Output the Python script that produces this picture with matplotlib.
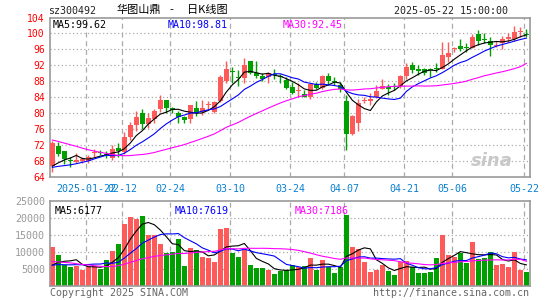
import matplotlib.pyplot as plt
import numpy as np
import pandas as pd

plt.rcParams['font.family'] = ['DejaVu Sans Mono']

# daily candles, 2025-01-17 .. 2025-05-22
opens = [66.8, 71.9, 70.5, 68.2, 67.9, 68.1, 68.1, 70.0, 70.3, 69.9,
         68.9, 71.3, 70.3, 74.2, 77.1, 80.1, 77.3, 78.6, 81.0, 83.3,
         81.3, 80.0, 79.1, 78.5, 81.3, 80.4, 82.0, 80.4, 83.1, 88.1,
         90.5, 89.1, 88.75, 93.1, 90.2, 89.3, 89.2, 89.7, 89.3, 88.3,
         86.7, 85.6, 84.8, 84.2, 87.3, 86.3, 89.4, 88.0, 87.2, 83.2,
         74.8, 77.7, 83.0, 83.1, 84.0, 86.2, 86.7, 86.6, 86.9, 89.4,
         92.2, 91.2, 91.0, 91.1, 91.3, 91.2, 94.2, 96.0, 96.8, 96.5,
         96.4, 99.8, 98.7, 98.1, 96.8, 97.5, 98.5, 98.6, 100.3, 99.8]
highs = [73.0, 72.8, 70.7, 69.0, 70.1, 69.2, 69.7, 71.2, 70.8, 70.5,
         72.1, 72.5, 75.3, 77.9, 80.7, 81.2, 80.0, 81.1, 84.6, 83.3,
         81.7, 80.6, 79.3, 82.0, 83.1, 83.3, 83.1, 83.1, 89.6, 93.1,
         91.5, 90.8, 93.9, 93.1, 93.1, 90.0, 90.4, 91.2, 89.9, 89.2,
         87.9, 87.5, 85.8, 87.6, 87.9, 89.6, 90.0, 89.2, 87.9, 84.6,
         79.6, 83.7, 84.0, 85.0, 87.0, 88.5, 87.3, 87.5, 89.7, 92.6,
         92.9, 92.2, 91.4, 91.4, 92.5, 97.9, 97.9, 96.7, 98.7, 97.5,
         99.8, 100.8, 100.2, 99.2, 98.1, 99.3, 100.2, 101.9, 101.7, 101.1]
lows = [65.4, 69.3, 67.3, 66.7, 67.5, 67.6, 67.6, 69.1, 69.6, 68.8,
        68.4, 69.0, 69.8, 73.4, 75.6, 76.0, 76.4, 77.5, 80.4, 80.2,
        80.2, 77.7, 77.7, 77.7, 79.3, 79.6, 80.8, 80.2, 82.9, 87.7,
        87.7, 86.8, 87.7, 89.8, 88.9, 88.2, 87.7, 88.5, 87.5, 86.0,
        84.8, 84.2, 84.0, 83.5, 86.0, 86.1, 87.2, 87.0, 85.4, 70.8,
        74.6, 75.5, 82.5, 82.1, 83.8, 86.0, 84.6, 85.8, 86.4, 88.7,
        90.2, 89.6, 89.6, 89.2, 90.4, 91.2, 92.9, 95.4, 95.6, 95.4,
        96.4, 97.2, 97.7, 94.4, 96.7, 96.0, 97.9, 98.1, 99.2, 99.2]
closes = [72.6, 69.9, 68.6, 68.0, 68.3, 68.7, 69.2, 70.2, 70.1, 69.7,
          71.2, 70.6, 74.2, 77.2, 79.0, 77.3, 78.9, 80.6, 83.3, 81.4,
          80.8, 79.0, 78.3, 82.0, 80.0, 81.3, 82.2, 82.9, 89.2, 91.1,
          90.3, 88.9, 92.1, 90.2, 89.4, 88.5, 90.0, 89.5, 89.1, 86.3,
          85.2, 85.8, 84.2, 87.3, 86.4, 89.4, 88.2, 87.9, 86.1, 74.9,
          79.3, 82.5, 83.2, 83.7, 85.6, 86.8, 86.2, 86.5, 89.4, 91.7,
          90.8, 90.6, 90.2, 90.9, 91.1, 94.6, 95.2, 96.1, 96.2, 96.3,
          99.2, 98.1, 98.3, 97.2, 97.2, 98.7, 99.2, 100.4, 100.4, 99.6]
volumes = [11500, 9100, 6000, 5600, 5900, 4700, 5600, 5800, 5000, 7600,
           10300, 12400, 18100, 20200, 19600, 20500, 14800, 14800, 12400, 9700,
           10000, 13700, 5800, 11000, 10600, 8500, 8000, 7100, 16600, 16900,
           9700, 8500, 10500, 6100, 5300, 5300, 4700, 3500, 4200, 4700,
           6000, 5500, 5800, 8200, 4600, 7500, 5500, 3700, 5500, 20800,
           11500, 10900, 7000, 4000, 4700, 6100, 4300, 3100, 7000, 7300,
           5500, 3700, 3700, 4000, 8200, 14800, 9100, 8500, 9500, 6700,
           13000, 7900, 8200, 10000, 6100, 6400, 5500, 10000, 4600, 4000]

# days before the window (only feed the moving averages), estimated
pre_close = [80.5, 81.2, 79.8, 80.6, 82.0, 81.5, 80.3, 79.0, 78.2, 79.1,
             77.6, 76.8, 75.9, 74.5, 73.8, 72.6, 71.9, 70.8, 69.9, 68.8,
             67.5, 66.8, 66.0, 65.5, 65.2, 65.8, 65.0, 65.6, 65.0]
pre_volume = [12500, 10800, 9600, 13200, 11500, 10200, 12000, 10500, 9800, 10500,
              4800, 4200, 4500, 3900, 4100, 4600, 4000, 4300, 3800, 4200,
              7200, 6500, 5800, 5500, 5000, 4800, 4500, 4900, 4300]

date_idx = [6, 12, 20, 30, 40, 49, 59, 67, 79]
date_labels = ['2025-01-22', '02-12', '02-24', '03-10', '03-24',
               '04-07', '04-21', '05-06', '05-22']
price_ticks = [64, 68, 72, 76, 80, 84, 88, 92, 96, 100, 104]
vol_ticks = [5000, 10000, 15000, 20000, 25000]

RED = '#ff5a5a'
GREEN = '#00a000'
n = len(closes)
x = np.arange(n)

cs = pd.Series(pre_close + closes)
vs = pd.Series(pre_volume + volumes)
ma = {k: cs.rolling(k).mean().values[-n:] for k in (5, 10, 30)}
vma = {k: vs.rolling(k).mean().values[-n:] for k in (5, 10, 30)}
ma_colors = {5: 'black', 10: '#0000ff', 30: '#ff00ff'}

W, H = 545, 300
fig = plt.figure(figsize=(W / 100, H / 100), dpi=100)
ax = fig.add_axes([49.7 / W, 1 - 177.3 / H, 480.3 / W, 159.8 / H])
axv = fig.add_axes([49.7 / W, 1 - 285.5 / H, 480.3 / W, 84.5 / H])

grid_x = np.array(date_idx) - 0.33
for a in (ax, axv):
    a.set_xlim(-0.43, 79.6)
    for gx in grid_x:
        a.axvline(gx, color='#aaaaaa', lw=0.9, ls=(0, (4, 3)), zorder=0)
    for s in a.spines.values():
        s.set_color('#999999')
        s.set_linewidth(1.2)

# price panel
ax.set_ylim(64, 104)
for gy in price_ticks[1:-1]:
    ax.axhline(gy, color='#aaaaaa', lw=0.9, ls=(0, (1, 2)), zorder=0)
for i in range(n):
    o, h, l, c = opens[i], highs[i], lows[i], closes[i]
    col = RED if c >= o else GREEN
    ax.vlines(i, l, h, color=col, lw=1, zorder=2)
    ax.bar(i, max(abs(c - o), 0.25), bottom=min(o, c), width=0.78,
           color=col, lw=0, zorder=3)
for k in (5, 10, 30):
    ax.plot(x, ma[k], color=ma_colors[k], lw=0.8, zorder=4)

ax.set_yticks(price_ticks)
ax.set_yticklabels([str(t) for t in price_ticks])
ax.tick_params(axis='y', length=0, pad=3.5, labelcolor='red', labelsize=7)
ax.set_xticks(grid_x)
ax.set_xticklabels(date_labels)
ax.tick_params(axis='x', length=0, pad=4.5, labelcolor='#0a80d0', labelsize=7.2)

ax.text(0.006, 0.955, 'MA5:99.62', transform=ax.transAxes,
        fontsize=7.2, color='black', va='center')
ax.text(0.245, 0.955, 'MA10:98.81', transform=ax.transAxes,
        fontsize=7.2, color='#0000ff', va='center')
ax.text(0.484, 0.955, 'MA30:92.45', transform=ax.transAxes,
        fontsize=7.2, color='#ff00ff', va='center')
ax.text(0.965, 0.1, 'sina', transform=ax.transAxes, fontsize=13,
        color='#c8c8c8', ha='right', va='center', style='italic',
        weight='bold', family='DejaVu Sans', zorder=1)

# volume panel
axv.set_ylim(0, 25000)
for gy in vol_ticks[:-1]:
    axv.axhline(gy, color='#aaaaaa', lw=0.9, ls=(0, (1, 2)), zorder=0)
vcols = [RED if closes[i] >= opens[i] else GREEN for i in range(n)]
axv.bar(x, volumes, width=0.85, color=vcols, lw=0, zorder=2)
for k in (5, 10, 30):
    axv.plot(x, vma[k], color=ma_colors[k], lw=0.8, zorder=4)
axv.set_yticks(vol_ticks)
axv.set_yticklabels([str(t) for t in vol_ticks])
axv.tick_params(axis='y', length=0, pad=3.5, labelcolor='#999999', labelsize=7.2)
axv.set_xticks([])
axv.text(0.01, 0.88, 'MA5:6177', transform=axv.transAxes,
         fontsize=7.2, color='black', va='center')
axv.text(0.26, 0.88, 'MA10:7619', transform=axv.transAxes,
         fontsize=7.2, color='#0000ff', va='center')
axv.text(0.51, 0.88, 'MA30:7186', transform=axv.transAxes,
         fontsize=7.2, color='#ff00ff', va='center')

# header / footer
cjk = ['Noto Sans CJK SC', 'DejaVu Sans']
fig.text(48 / W, 1 - 11 / H, 'sz300492', fontsize=7.2, color='#222222', va='center')
fig.text(117 / W, 1 - 10 / H, '华图山鼎', fontsize=8, color='black',
         va='center', family=cjk)
fig.text(169 / W, 1 - 10 / H, '-', fontsize=8, color='black',
         va='center', family=cjk)
fig.text(187 / W, 1 - 10 / H, '日K线图', fontsize=8, color='black',
         va='center', family=cjk)
fig.text(508 / W, 1 - 11 / H, '2025-05-22 15:00:00', fontsize=7.2,
         color='#222222', va='center', ha='right')
fig.text(50 / W, 1 - 292.5 / H, 'Copyright 2025 SINA.COM', fontsize=7.2,
         color='#666666', va='center')
fig.text(529 / W, 1 - 292.5 / H, 'http://finance.sina.com.cn', fontsize=7.2,
         color='#666666', va='center', ha='right')

fig.savefig('out.png', dpi=100)
